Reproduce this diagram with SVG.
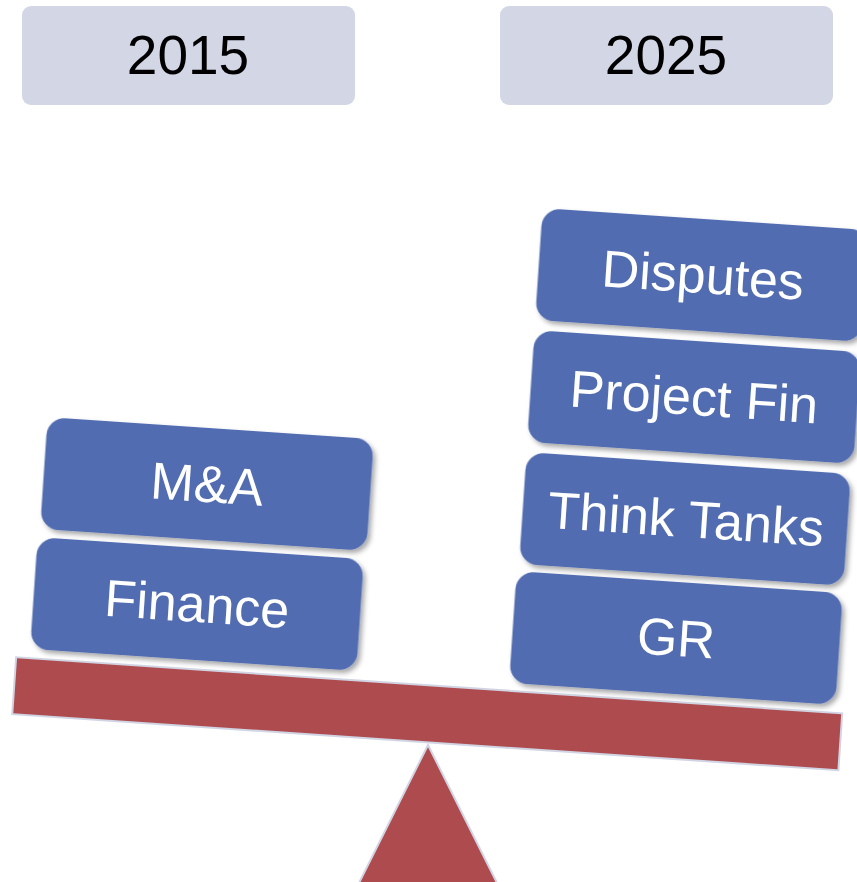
<svg xmlns="http://www.w3.org/2000/svg" width="857" height="882" viewBox="0 0 857 882">
<defs>
<filter id="sh" x="-10%" y="-20%" width="125%" height="150%">
<feDropShadow dx="3" dy="3" stdDeviation="2.5" flood-color="#000" flood-opacity="0.35"/>
</filter>
<style>
.hdr{fill:#d3d7e5}
.htx{font-family:"Liberation Sans",Arial,sans-serif;font-size:55px;fill:#000;text-anchor:middle}
.blk{fill:#516cb0}
.btx{font-family:"Liberation Sans",Arial,sans-serif;font-size:52px;fill:#fff;text-anchor:middle}
.red{fill:#ae4b4e;stroke:#d0d4e3;stroke-width:2}
</style>
</defs>
<rect width="857" height="882" fill="#fff"/>
<g id="h2015"><rect class="hdr" x="22" y="6" width="333" height="99" rx="9"/><text class="htx" x="188" y="74">2015</text></g>
<g id="h2025"><rect class="hdr" x="500" y="6" width="333" height="99" rx="9"/><text class="htx" x="666" y="74">2025</text></g>
<g id="fulcrum"><polygon class="red" points="428,745 359,883 497,883"/></g>
<g id="beam"><rect class="red" x="13.25" y="685.25" width="828" height="57" transform="rotate(3.88 427.25 713.75)"/></g>
<g id="ma" transform="rotate(3.86 207 484)"><rect class="blk" filter="url(#sh)" x="43.5" y="428" width="327" height="112" rx="18"/><text class="btx" x="207" y="502">M&amp;A</text></g>
<g id="finance" transform="rotate(3.86 197 604)"><rect class="blk" filter="url(#sh)" x="33.5" y="548" width="327" height="112" rx="18"/><text class="btx" x="197" y="622">Finance</text></g>
<g id="disputes" transform="rotate(3.86 702 275)"><rect class="blk" filter="url(#sh)" x="538.5" y="219" width="327" height="112" rx="18"/><text class="btx" x="703" y="293">Disputes</text></g>
<g id="projectfin" transform="rotate(3.86 694 397)"><rect class="blk" filter="url(#sh)" x="530.5" y="341" width="327" height="112" rx="18"/><text class="btx" x="694" y="415">Project Fin</text></g>
<g id="thinktanks" transform="rotate(3.86 686 519)"><rect class="blk" filter="url(#sh)" x="522.5" y="463" width="325" height="112" rx="18"/><text class="btx" x="686" y="537">Think Tanks</text></g>
<g id="gr" transform="rotate(3.86 676 638)"><rect class="blk" filter="url(#sh)" x="512.5" y="582" width="327" height="112" rx="18"/><text class="btx" x="676" y="656">GR</text></g>
</svg>
